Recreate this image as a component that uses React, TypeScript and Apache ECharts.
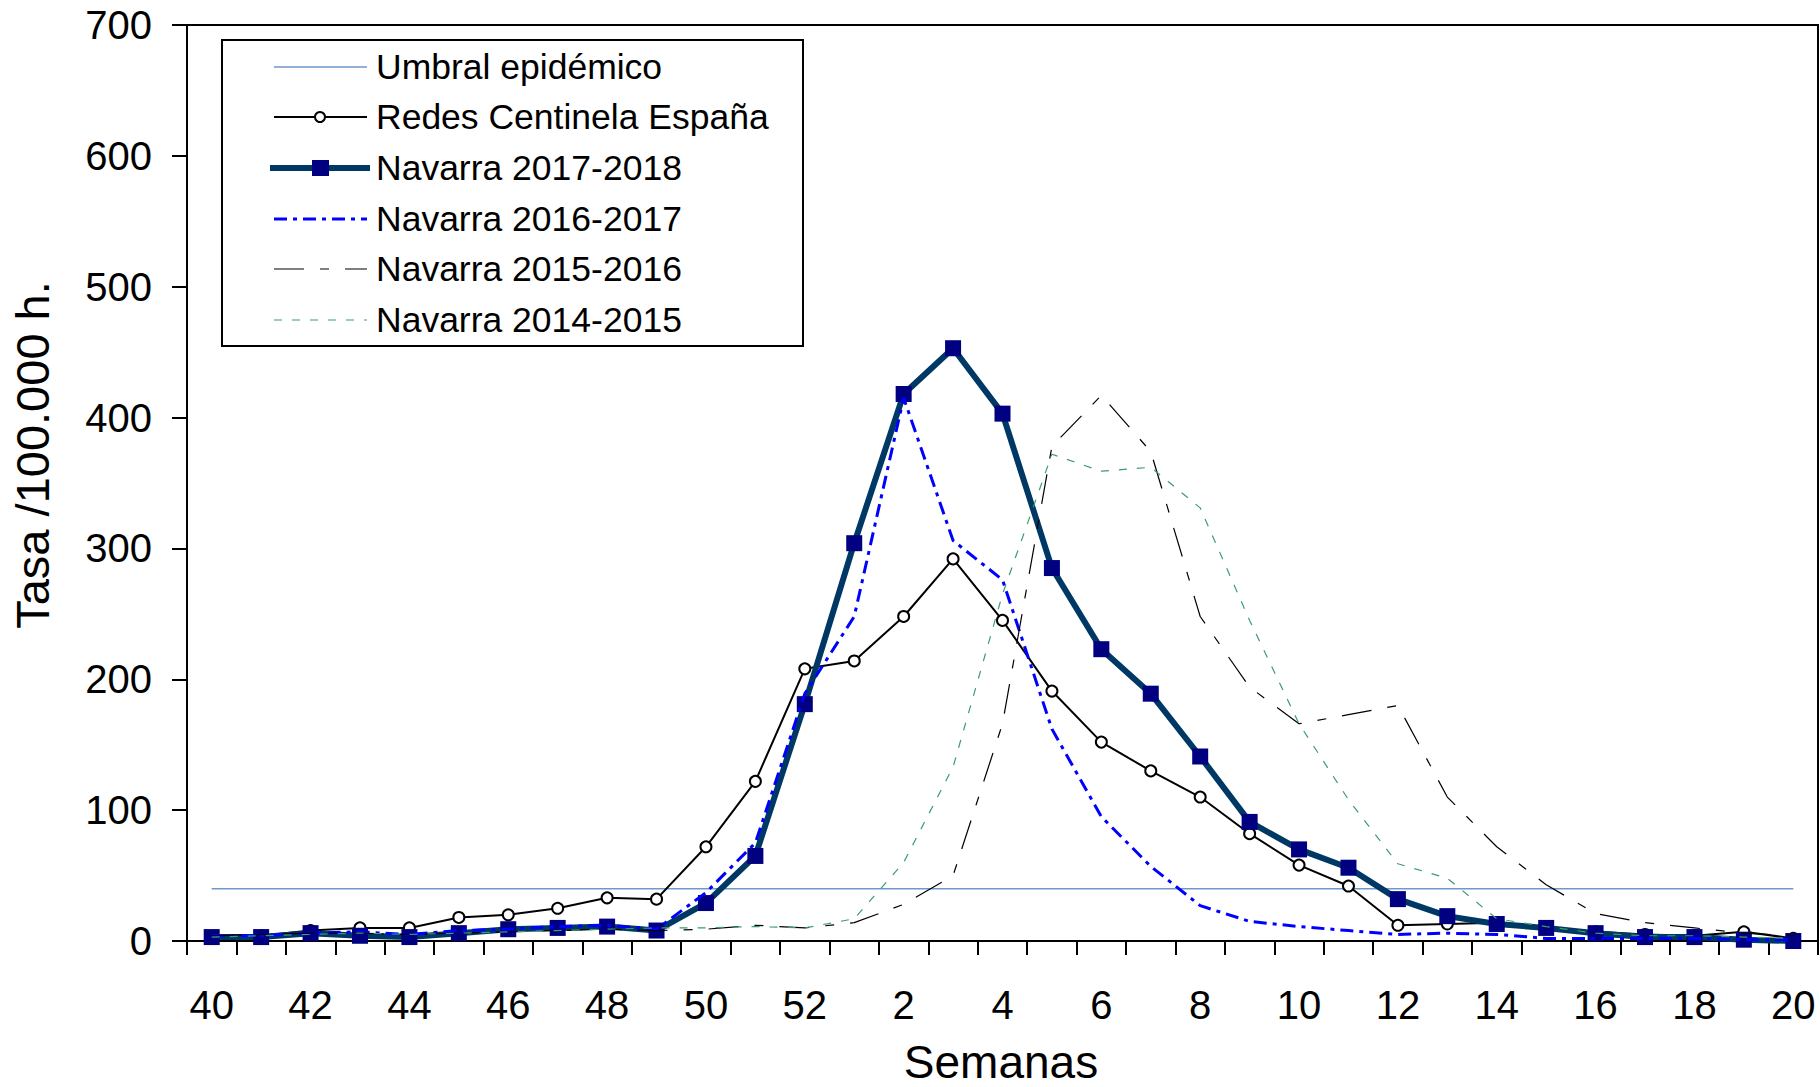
import React, { useEffect, useRef } from "react";
import * as echarts from "echarts";

const weeks = [
  "40", "41", "42", "43", "44", "45", "46", "47", "48", "49", "50", "51", "52",
  "1", "2", "3", "4", "5", "6", "7", "8", "9", "10", "11", "12", "13", "14", "15", "16", "17", "18", "19", "20",
];

const umbral = [
  40, 40, 40, 40, 40, 40, 40, 40, 40, 40, 40, 40, 40,
  40, 40, 40, 40, 40, 40, 40, 40, 40, 40, 40, 40, 40, 40, 40, 40, 40, 40, 40, 40,
];

const redesCentinela = [
  3, 4, 8, 10, 10, 18, 20, 25, 33, 32, 72, 122, 208,
  214, 248, 292, 245, 191, 152, 130, 110, 82, 58, 42, 12, 13, 14, 10, 7, 5, 4, 7, 2,
];

const navarra1718 = [
  3, 3, 6, 4, 3, 6, 9, 10, 11, 8, 29, 65, 181,
  304, 418, 453, 403, 285, 223, 189, 141, 91, 70, 56, 32, 19, 13, 10, 6, 3, 3, 1, 0,
];

const navarra1617 = [
  4, 4, 6, 7, 5, 8, 9, 11, 12, 9, 37, 75, 189,
  248, 415, 306, 276, 162, 95, 57, 27, 15, 11, 8, 5, 6, 5, 2, 2, 2, 2, 1, 1,
];

const navarra1516 = [
  4, 5, 6, 6, 5, 6, 7, 8, 9, 8, 9, 12, 10,
  14, 28, 50, 166, 378, 417, 374, 248, 194, 166, 173, 180, 110, 72, 43, 21, 14, 10, 6, 4,
];

const navarra1415 = [
  3, 4, 5, 6, 5, 6, 7, 8, 9, 10, 10, 11, 10,
  17, 60, 133, 265, 372, 359, 362, 331, 245, 166, 108, 59, 48, 17, 11, 6, 4, 4, 3, 2,
];

const yTicks = [0, 100, 200, 300, 400, 500, 600, 700];

const seriesNames = [
  "Umbral epidémico",
  "Redes Centinela España",
  "Navarra 2017-2018",
  "Navarra 2016-2017",
  "Navarra 2015-2016",
  "Navarra 2014-2015",
];

const FONT = "'Liberation Sans', Arial, sans-serif";

const COLORS = {
  umbral: "#6f97c9",
  redes: "#000000",
  n1718line: "#003865",
  n1718mark: "#000080",
  n1617: "#0000ff",
  n1516: "#000000",
  n1415: "#3d9b6e",
};

function buildLegend() {
  const boxX = 222;
  const boxY = 40;
  const boxW = 581;
  const boxH = 306;
  const rowY = [67, 117, 168, 219, 269, 320];
  const lineX1 = 274;
  const lineX2 = 367;
  const midX = 320;
  const textX = 376;
  const children: any[] = [];
  children.push({
    type: "rect",
    shape: { x: boxX, y: boxY, width: boxW, height: boxH },
    style: { fill: "#fff", stroke: "#000", lineWidth: 2 },
  });
  const styles = [
    { stroke: COLORS.umbral, lineWidth: 1.5, lineDash: null as any },
    { stroke: COLORS.redes, lineWidth: 2, lineDash: null as any },
    { stroke: COLORS.n1718line, lineWidth: 6, lineDash: null as any },
    { stroke: COLORS.n1617, lineWidth: 3, lineDash: [13, 6, 4, 6] },
    { stroke: COLORS.n1516, lineWidth: 1.2, lineDash: [30, 16, 9, 16] },
    { stroke: COLORS.n1415, lineWidth: 1.2, lineDash: [8, 10] },
  ];
  seriesNames.forEach((name, i) => {
    const y = rowY[i];
    const st: any = { stroke: styles[i].stroke, lineWidth: styles[i].lineWidth };
    if (styles[i].lineDash) st.lineDash = styles[i].lineDash;
    children.push({
      type: "line",
      shape: { x1: i === 2 ? 270 : lineX1, y1: y, x2: i === 2 ? 370 : lineX2, y2: y },
      style: st,
    });
    if (i === 1) {
      children.push({
        type: "circle",
        shape: { cx: midX, cy: y, r: 5 },
        style: { fill: "#fff", stroke: "#000", lineWidth: 2 },
      });
    }
    if (i === 2) {
      children.push({
        type: "rect",
        shape: { x: midX - 8, y: y - 8, width: 17, height: 16 },
        style: { fill: COLORS.n1718mark },
      });
    }
    children.push({
      type: "text",
      x: textX,
      y: y,
      style: {
        text: name,
        fill: "#000",
        font: `35.5px ${FONT}`,
        textAlign: "left",
        textVerticalAlign: "middle",
      },
    });
  });
  return children;
}

export default function App() {
  const ref = useRef<HTMLDivElement>(null);

  useEffect(() => {
    if (!ref.current) return;
    const chart = echarts.init(ref.current, undefined, { renderer: "svg" });
    const option: any = {
      animation: false,
      backgroundColor: "#ffffff",
      grid: {
        left: 187,
        right: 2,
        top: 25,
        bottom: 146,
        show: true,
        borderColor: "#000",
        borderWidth: 2,
        backgroundColor: "transparent",
      },
      xAxis: {
        type: "category",
        data: weeks,
        boundaryGap: true,
        axisLine: { show: true, lineStyle: { color: "#000", width: 2 } },
        axisTick: { show: true, interval: 0, length: 14, inside: false, lineStyle: { color: "#000", width: 2 } },
        axisLabel: { interval: 1, fontSize: 40, color: "#000", fontFamily: FONT, margin: 44 },
        splitLine: { show: false },
      },
      yAxis: {
        type: "value",
        min: yTicks[0],
        max: yTicks[yTicks.length - 1],
        interval: 100,
        axisLine: { show: true, lineStyle: { color: "#000", width: 2 } },
        axisTick: { show: true, length: 15, inside: false, lineStyle: { color: "#000", width: 2 } },
        axisLabel: { fontSize: 40, color: "#000", fontFamily: FONT, margin: 35 },
        splitLine: { show: false },
      },
      graphic: [
        {
          type: "text",
          x: 32,
          y: 455,
          rotation: Math.PI / 2,
          style: {
            text: "Tasa /100.000 h.",
            fill: "#000",
            font: `47px ${FONT}`,
            textAlign: "center",
            textVerticalAlign: "middle",
          },
        },
        {
          type: "text",
          x: 1001,
          y: 1062,
          style: {
            text: "Semanas",
            fill: "#000",
            font: `46px ${FONT}`,
            textAlign: "center",
            textVerticalAlign: "middle",
          },
        },
        ...buildLegend(),
      ],
      series: [
        {
          name: seriesNames[0],
          type: "line",
          data: umbral,
          symbol: "none",
          lineStyle: { color: COLORS.umbral, width: 1.5 },
          itemStyle: { color: COLORS.umbral },
          z: 1,
        },
        {
          name: seriesNames[1],
          type: "line",
          data: redesCentinela,
          symbol: "circle",
          symbolSize: 11,
          showAllSymbol: true,
          lineStyle: { color: COLORS.redes, width: 2 },
          itemStyle: { color: "#fff", borderColor: "#000", borderWidth: 2 },
          z: 2,
        },
        {
          name: seriesNames[2],
          type: "line",
          data: navarra1718,
          symbol: "rect",
          symbolSize: 16,
          showAllSymbol: true,
          lineStyle: { color: COLORS.n1718line, width: 6 },
          itemStyle: { color: COLORS.n1718mark },
          z: 3,
        },
        {
          name: seriesNames[3],
          type: "line",
          data: navarra1617,
          symbol: "none",
          lineStyle: { color: COLORS.n1617, width: 3, type: [13, 6, 4, 6] },
          itemStyle: { color: COLORS.n1617 },
          z: 4,
        },
        {
          name: seriesNames[4],
          type: "line",
          data: navarra1516,
          symbol: "none",
          lineStyle: { color: COLORS.n1516, width: 1.2, type: [30, 16, 9, 16] },
          itemStyle: { color: COLORS.n1516 },
          z: 4,
        },
        {
          name: seriesNames[5],
          type: "line",
          data: navarra1415,
          symbol: "none",
          lineStyle: { color: COLORS.n1415, width: 1.2, type: [8, 10] },
          itemStyle: { color: COLORS.n1415 },
          z: 4,
        },
      ],
    };
    chart.setOption(option);
    return () => {
      chart.dispose();
    };
  }, []);

  return (
    <div
      ref={ref}
      style={{ position: "fixed", left: 0, top: 0, width: "1820px", height: "1087px", background: "#fff" }}
    />
  );
}
